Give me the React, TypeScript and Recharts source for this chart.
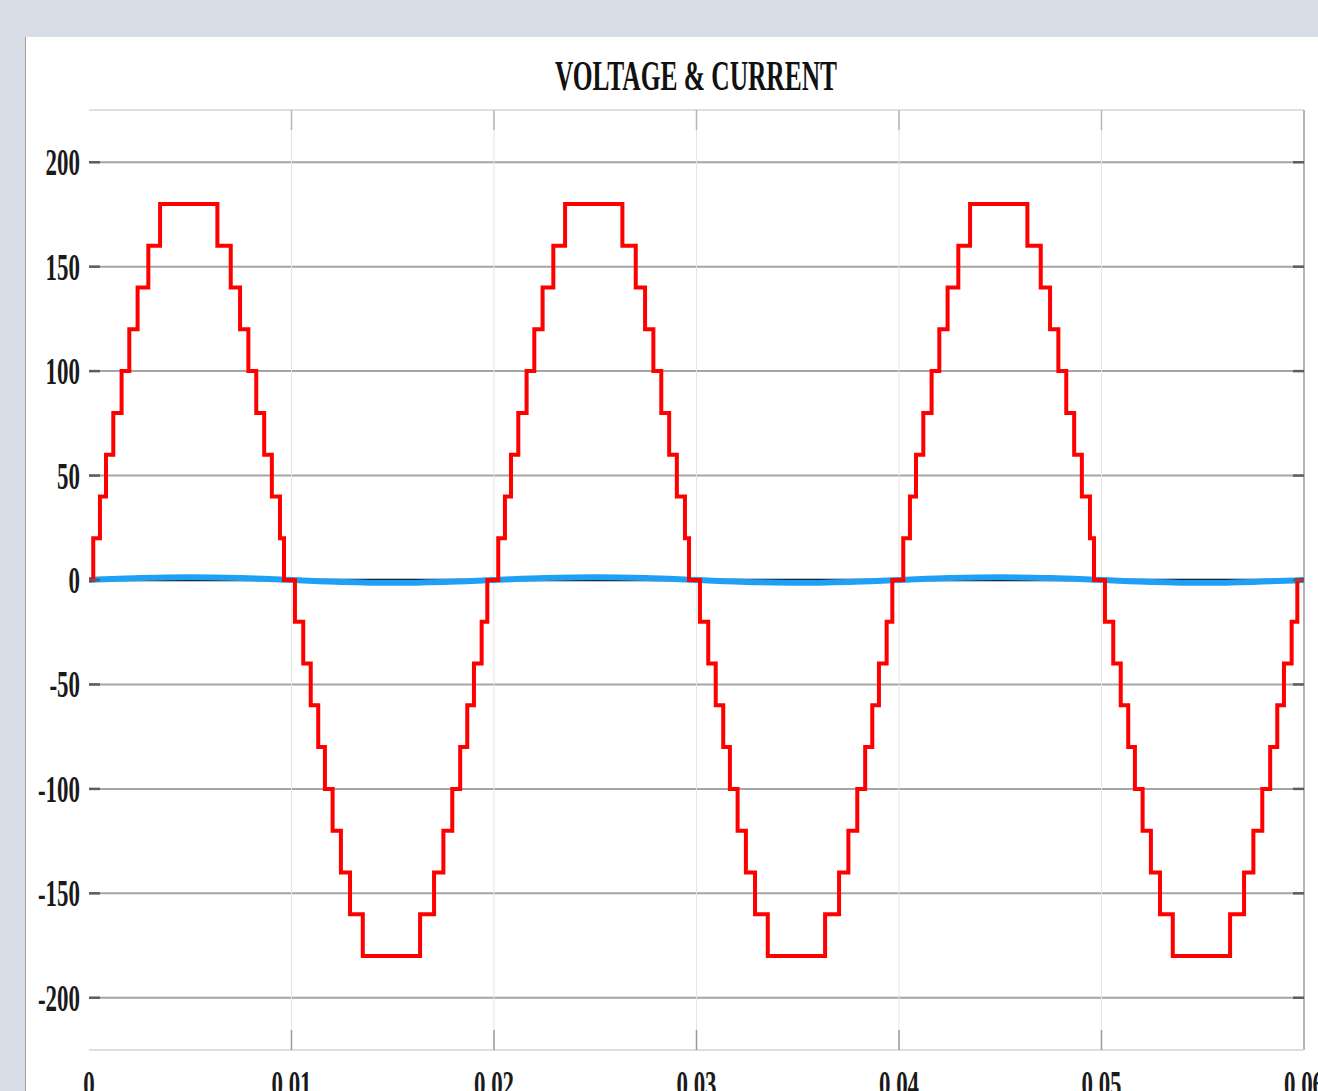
import React from "react";
import { CartesianGrid, Line, LineChart, ReferenceLine, XAxis, YAxis } from "recharts";

// axis ticks
const xTicks = [0, 0.01, 0.02, 0.03, 0.04, 0.05, 0.06];
const xTickLabels = ["0", "0.01", "0.02", "0.03", "0.04", "0.05", "0.06"];
const yTicks = [-200, -150, -100, -50, 0, 50, 100, 150, 200];
const xGridValues = [0.01, 0.02, 0.03, 0.04, 0.05];

// multilevel inverter voltage: switching instants inside one period
const voltageStepTimes = [
  0.00021, 0.00054, 0.00084, 0.0012, 0.00161, 0.00199, 0.0024, 0.00293, 0.00351,
  0.00634, 0.007, 0.00746, 0.00787, 0.00826, 0.00865, 0.00903, 0.00943, 0.00963,
  0.01017, 0.01058, 0.01095, 0.01132, 0.01165, 0.01203, 0.01244, 0.01289, 0.01352,
  0.01635, 0.01704, 0.0175, 0.01794, 0.01833, 0.01868, 0.01901, 0.01939, 0.01967,
];
// level the voltage jumps to at each instant above
const voltageStepLevels = [
  20, 40, 60, 80, 100, 120, 140, 160, 180,
  160, 140, 120, 100, 80, 60, 40, 20, 0,
  -20, -40, -60, -80, -100, -120, -140, -160, -180,
  -160, -140, -120, -100, -80, -60, -40, -20, 0,
];
// where each of the three visible periods starts
const periodStarts = [0, 0.02, 0.04];

// load current (small, nearly sinusoidal)
const currentTimes = [
  0, 0.0025, 0.005, 0.0075, 0.01, 0.0125, 0.015, 0.0175, 0.02, 0.0225, 0.025, 0.0275, 0.03,
  0.0325, 0.035, 0.0375, 0.04, 0.0425, 0.045, 0.0475, 0.05, 0.0525, 0.055, 0.0575, 0.06,
];
const currentValues = [
  0, 0.9, 1.3, 0.9, 0, -0.9, -1.3, -0.9, 0, 0.9, 1.3, 0.9, 0,
  -0.9, -1.3, -0.9, 0, 0.9, 1.3, 0.9, 0, -0.9, -1.3, -0.9, 0,
];

// black trace sitting on zero underneath the current
const baseTimes = [0, 0.06];
const baseValues = [0, 0];

const voltageData: { t: number; v: number }[] = [{ t: 0, v: 0 }];
periodStarts.forEach((start) => {
  voltageStepTimes.forEach((st, i) => {
    voltageData.push({ t: start + st, v: voltageStepLevels[i] });
  });
});
voltageData.push({ t: 0.06, v: 0 });

const currentData = currentTimes.map((t, i) => ({ t, v: currentValues[i] }));
const baseData = baseTimes.map((t, i) => ({ t, v: baseValues[i] }));

const W = 1318;
const H = 1091;
const PLOT_LEFT = 89;
const PLOT_RIGHT = 1304;
const PLOT_TOP = 110;
const PLOT_BOTTOM = 1050;
const FONT = "'Liberation Serif', 'Times New Roman', serif";

function YTick(props: any) {
  const { y, payload } = props;
  return (
    <g>
      <line x1={PLOT_LEFT} x2={PLOT_LEFT + 11} y1={y} y2={y} stroke="#5e5e5e" strokeWidth={2.5} />
      <line x1={PLOT_RIGHT - 11} x2={PLOT_RIGHT} y1={y} y2={y} stroke="#5e5e5e" strokeWidth={2.5} />
      <text
        transform={`translate(${PLOT_LEFT - 9},${y + 13}) scale(0.62,1)`}
        textAnchor="end"
        fontFamily={FONT}
        fontWeight="bold"
        fontSize={37}
        fill="#1a1a1a"
      >
        {payload.value}
      </text>
    </g>
  );
}

function XTick(props: any) {
  const { x, payload } = props;
  const idx = xTicks.indexOf(payload.value);
  const label = idx >= 0 ? xTickLabels[idx] : String(payload.value);
  const inner = payload.value > 0 && payload.value < 0.06;
  return (
    <g>
      {inner && <line x1={x} x2={x} y1={PLOT_BOTTOM} y2={PLOT_BOTTOM - 20} stroke="#9a9a9a" strokeWidth={1.5} />}
      {inner && <line x1={x} x2={x} y1={PLOT_TOP} y2={PLOT_TOP + 20} stroke="#b4b4b4" strokeWidth={1.5} />}
      <text
        transform={`translate(${x},1097) scale(0.62,1)`}
        textAnchor="middle"
        fontFamily={FONT}
        fontWeight="bold"
        fontSize={37}
        fill="#1a1a1a"
      >
        {label}
      </text>
    </g>
  );
}

export default function App() {
  return (
    <div
      style={{
        position: "absolute",
        left: 0,
        top: 0,
        width: W,
        height: H,
        background: "#d8dce6",
        overflow: "hidden",
      }}
    >
      <div
        style={{
          position: "absolute",
          left: 25,
          top: 37,
          width: W - 25,
          height: H - 37,
          background: "#ffffff",
          borderLeft: "1px solid #a0a0a0",
        }}
      />
      <div style={{ position: "absolute", left: 0, top: 0 }}>
        <LineChart
          width={W}
          height={H}
          margin={{ top: PLOT_TOP, right: W - PLOT_RIGHT, bottom: 0, left: 0 }}
        >
          <CartesianGrid horizontal={true} vertical={false} stroke="#a5a5a5" strokeWidth={2} />
          {xGridValues.map((v) => (
            <ReferenceLine key={v} x={v} stroke="#e4e4e4" strokeWidth={1} />
          ))}
          <XAxis
            type="number"
            dataKey="t"
            domain={[0, 0.06]}
            ticks={xTicks}
            interval={0}
            allowDataOverflow
            height={H - PLOT_BOTTOM}
            axisLine={{ stroke: "#dedede", strokeWidth: 2 }}
            tickLine={false}
            tick={<XTick />}
          />
          <YAxis
            type="number"
            domain={[-225, 225]}
            ticks={yTicks}
            interval={0}
            allowDataOverflow
            width={PLOT_LEFT}
            axisLine={false}
            tickLine={false}
            tick={<YTick />}
          />
          <ReferenceLine y={225} stroke="#f3f3f3" strokeWidth={1.5} />
          <ReferenceLine x={0.06} stroke="#9c9c9c" strokeWidth={1.5} />
          <Line
            data={baseData}
            dataKey="v"
            type="linear"
            stroke="#000000"
            strokeWidth={2.5}
            dot={false}
            isAnimationActive={false}
          />
          <Line
            data={currentData}
            dataKey="v"
            type="monotone"
            stroke="#1ea0f5"
            strokeWidth={6}
            dot={false}
            isAnimationActive={false}
          />
          <Line
            data={voltageData}
            dataKey="v"
            type="stepAfter"
            stroke="#ff0000"
            strokeWidth={4}
            strokeLinejoin="miter"
            dot={false}
            isAnimationActive={false}
          />
        </LineChart>
      </div>
      <svg style={{ position: "absolute", left: 0, top: 0 }} width={W} height={120}>
        <text
          x={555}
          y={90}
          textLength={282}
          lengthAdjust="spacingAndGlyphs"
          fontFamily={FONT}
          fontWeight="bold"
          fontSize={42}
          fill="#111"
        >
          VOLTAGE &amp; CURRENT
        </text>
      </svg>
    </div>
  );
}
